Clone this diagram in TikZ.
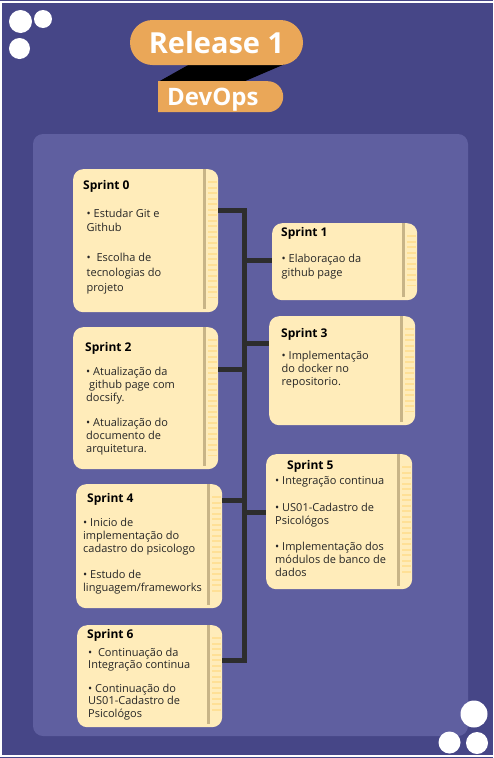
\documentclass[tikz,border=0pt]{standalone}
\usepackage{fontspec}
\setmainfont{Open Sans}
\usetikzlibrary{shapes.misc}

\definecolor{deepviolet}{RGB}{70,70,135}
\definecolor{panelviolet}{RGB}{95,95,160}
\definecolor{notepaper}{RGB}{255,236,186}
\definecolor{noteline}{RGB}{200,180,135}
\definecolor{notering}{RGB}{255,224,150}
\definecolor{tagorange}{RGB}{234,167,88}
\definecolor{wire}{RGB}{45,45,45}

\begin{document}
\begin{tikzpicture}[
    x=1pt, y=-1pt,
    card/.style={rectangle, rounded corners=10pt, fill=notepaper, inner sep=0pt, anchor=north west},
    title/.style={font=\bfseries\fontsize{12}{14}\selectfont, anchor=base west, inner sep=0pt, text=black},
    body/.style={font=\fontsize{11}{#1}\selectfont, align=left, anchor=base west, inner sep=0pt, text=black!85},
    body/.default=13,
    link/.style={draw=wire, line width=5pt},
    ring/.style={draw=notering, line width=9pt, dash pattern=on 2.2pt off 3.3pt},
    rim/.style={draw=noteline, line width=2.5pt},
    tag/.style={rounded rectangle, fill=tagorange, inner sep=0pt}
]
    \useasboundingbox (0,0) rectangle (493,758);

    % Frame and panel
    \fill[deepviolet] (0,0) rectangle (493,758);
    \draw[white, line width=2pt] (1,1.5) rectangle (510,755.5);
    \fill[panelviolet, rounded corners=10pt] (33,134) rectangle (468,736);

    % Corner dots
    \fill[white] (20.5,21.5) circle[radius=11.5pt];
    \fill[white] (43,19) circle[radius=9pt];
    \fill[white] (19.5,48.5) circle[radius=10.5pt];
    \fill[white] (474,714) circle[radius=13.5pt];
    \fill[white] (449.5,742.5) circle[radius=11pt];
    \fill[white] (477,743) circle[radius=11pt];

    % Header
    \fill[black] (190,64) -- (285,64) -- (243,82) -- (158,82) -- cycle;
    \node[tag, minimum width=173pt, minimum height=45pt, text=white,
        font=\bfseries\fontsize{29}{30}\selectfont] (release) at (216.5,42.5) {Release 1};
    \node[tag, rounded rectangle west arc=none, minimum width=125pt, minimum height=31pt,
        anchor=north west] (devbox) at (158,81) {};
    \node[font=\bfseries\fontsize{24}{26}\selectfont, text=white, anchor=base west, inner sep=0pt]
        (devops) at (167,105) {DevOps};

    % Sprint cards
    \node[card, minimum width=145pt, minimum height=143pt] (s0) at (73,169) {};
    \node[card, minimum width=145pt, minimum height=77pt] (s1) at (272,223) {};
    \node[card, minimum width=145pt, minimum height=142pt] (s2) at (73,327) {};
    \node[card, minimum width=146pt, minimum height=109pt] (s3) at (269,316) {};
    \node[card, minimum width=146pt, minimum height=124pt] (s4) at (76,484) {};
    \node[card, minimum width=146pt, minimum height=135pt] (s5) at (266,454) {};
    \node[card, minimum width=145pt, minimum height=102pt] (s6) at (77,625) {};

    \foreach \c in {s0,s1,s2,s3,s4,s5,s6} {
        \draw[ring] ([xshift=-6pt,yshift=-12pt]\c.north east) -- ([xshift=-6pt,yshift=14pt]\c.south east);
        \draw[rim] ([xshift=-14pt]\c.north east) -- ([xshift=-14pt,yshift=3pt]\c.south east);
    }

    % Timeline
    \coordinate (j0) at (244.5,210.5);
    \coordinate (j1) at (244.5,260);
    \coordinate (j2) at (244.5,369.5);
    \coordinate (j3) at (244.5,343.5);
    \coordinate (j4) at (244.5,500);
    \coordinate (j5) at (244.5,512);
    \coordinate (j6) at (244.5,660.5);

    \draw[link] (j0 -| s0.east) -- (j0) -- (j6) -- (j6 -| s6.east);
    \draw[link] (j1) -- (j1 -| s1.west);
    \draw[link] (j2) -- (j2 -| s2.east);
    \draw[link] (j3) -- (j3 -| s3.west);
    \draw[link] (j4) -- (j4 -| s4.east);
    \draw[link] (j5) -- (j5 -| s5.west);

    % Card texts (body nodes sit on their last baseline)
    \node[title] (s0t) at (83,189) {Sprint 0};
    \node[body=14.8] (s0b) at (86.5,291) {• Estudar Git e\\ Github\\ \\ •\ \ Escolha de\\ tecnologias do\\ projeto};

    \node[title] (s1t) at (281,236) {Sprint 1};
    \node[body=14] (s1b) at (281.5,276) {• Elaboraçao da\\ github page};

    \node[title] (s2t) at (85,351) {Sprint 2};
    \node[body=12.7] (s2b) at (86,452) {• Atualização da\\ \ github page com\\ docsify.\\ \\ • Atualização do\\ documento de\\ arquitetura.};

    \node[title] (s3t) at (281,337) {Sprint 3};
    \node[body=13] (s3b) at (281.5,385) {• Implementação\\ do docker no\\ repositorio.};

    \node[title] (s4t) at (87,502) {Sprint 4};
    \node[body=13] (s4b) at (83,591) {• Inicio de\\ implementação do\\ cadastro do psicologo\\ \\ • Estudo de\\ linguagem/frameworks};

    \node[title] (s5t) at (287,469) {Sprint 5};
    \node[body=13.1] (s5b) at (275,576.5) {• Integração continua\\ \\ • US01-Cadastro de\\ Psicológos\\ \\ • Implementação dos\\ módulos de banco de\\ dados};

    \node[title] (s6t) at (87,638) {Sprint 6};
    \node[body=12.2] (s6b) at (88,717) {•\ \ Continuação da\\ Integração continua\\ \\ • Continuação do\\ US01-Cadastro de\\ Psicológos};
\end{tikzpicture}
\end{document}
